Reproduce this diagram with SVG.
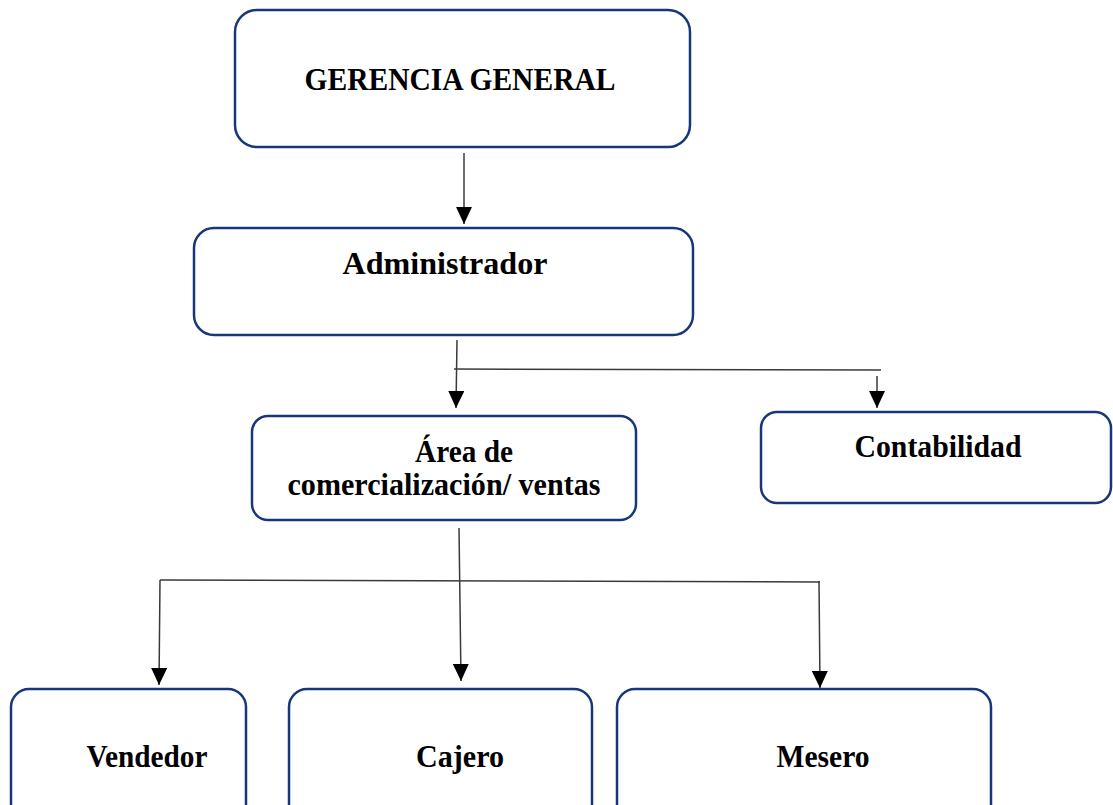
<svg xmlns="http://www.w3.org/2000/svg" width="1113" height="805" viewBox="0 0 1113 805">
<style>
.box{fill:#fff;stroke:#17377a;stroke-width:2.5}
.lbl{font-family:"Liberation Serif","Times New Roman",serif;font-weight:bold;font-size:32px;fill:#000;text-anchor:middle}
.con{stroke:#3a3a3a;stroke-width:1.5;fill:none}
.arr{marker-end:url(#arr)}
</style>
<defs>
<marker id="arr" markerUnits="userSpaceOnUse" markerWidth="17" markerHeight="16" viewBox="0 0 17 16" refX="17" refY="8" orient="auto">
<path d="M0,0 L17,8 L0,16 Z" fill="#000"/>
</marker>
</defs>
<rect width="1113" height="805" fill="#fff"/>
<g id="connectors">
<path class="con arr" d="M464,153 L464,224"/>
<path class="con arr" d="M457,340 L456,408"/>
<path class="con" d="M454,369 L881,370"/>
<path class="con arr" d="M877,376 L877,408"/>
<path class="con arr" d="M459,528 L461,681"/>
<path class="con" d="M160,580 L820,582"/>
<path class="con arr" d="M160,580 L159,685"/>
<path class="con arr" d="M819,581 L820,688"/>
</g>
<g id="gerencia">
<rect class="box" x="235" y="10" width="455" height="137" rx="22"/>
<text class="lbl" x="460" y="90" textLength="311" lengthAdjust="spacingAndGlyphs">GERENCIA GENERAL</text>
</g>
<g id="administrador">
<rect class="box" x="194" y="228" width="499" height="107" rx="20"/>
<text class="lbl" x="445" y="274" textLength="205" lengthAdjust="spacingAndGlyphs">Administrador</text>
</g>
<g id="area">
<rect class="box" x="252" y="416" width="384" height="104" rx="16"/>
<text class="lbl" x="464" y="462" textLength="98" lengthAdjust="spacingAndGlyphs">Área de</text>
<text class="lbl" x="444" y="495" textLength="313" lengthAdjust="spacingAndGlyphs">comercialización/ ventas</text>
</g>
<g id="contabilidad">
<rect class="box" x="761" y="412" width="350" height="91" rx="16"/>
<text class="lbl" x="938" y="457" textLength="167" lengthAdjust="spacingAndGlyphs">Contabilidad</text>
</g>
<g id="vendedor">
<rect class="box" x="11" y="689" width="235" height="135" rx="18"/>
<text class="lbl" x="147" y="767" textLength="121" lengthAdjust="spacingAndGlyphs">Vendedor</text>
</g>
<g id="cajero">
<rect class="box" x="289" y="689" width="303" height="135" rx="18"/>
<text class="lbl" x="460" y="767" textLength="88" lengthAdjust="spacingAndGlyphs">Cajero</text>
</g>
<g id="mesero">
<rect class="box" x="617" y="689" width="374" height="135" rx="18"/>
<text class="lbl" x="823" y="767" textLength="93" lengthAdjust="spacingAndGlyphs">Mesero</text>
</g>
</svg>
